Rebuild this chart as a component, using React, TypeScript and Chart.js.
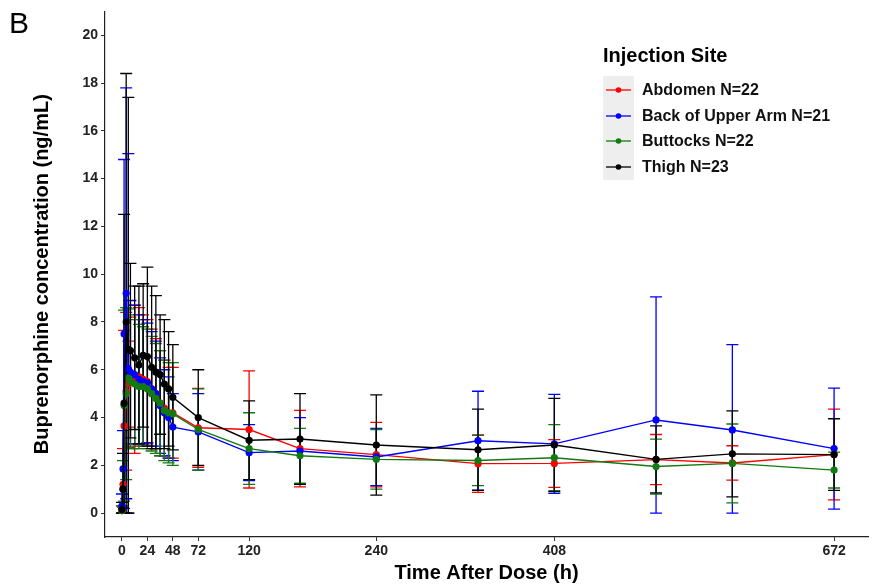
import React, { useEffect, useRef } from "react";
import { Chart, registerables } from "chart.js";

Chart.register(...registerables);

// Nominal sampling times (h)
const times = [0, 1, 2, 4, 6, 8, 12, 16, 20, 24, 28, 32, 36, 40, 44, 48, 72, 120, 168, 240, 336, 408, 504, 576, 672];
const xTickValues = [0, 24, 48, 72, 120, 240, 408, 672];
const yTickValues = [0, 2, 4, 6, 8, 10, 12, 14, 16, 18, 20];

// Abdomen N=22
const abdomenMean = [0.1, 1.2, 3.65, 5.1, 5.4, 5.5, 5.6, 5.7, 5.6, 5.5, 5.2, 5.0, 4.6, 4.4, 4.2, 4.2, 3.57, 3.5, 2.7, 2.45, 2.07, 2.08, 2.24, 2.1, 2.45];
const abdomenSD = [0.2, 1.5, 4.0, 3.3, 1.8, 2.7, 3.1, 2.9, 2.7, 2.6, 2.5, 2.3, 2.2, 2.0, 1.9, 1.9, 1.65, 2.45, 1.6, 1.35, 1.2, 1.0, 1.05, 0.72, 1.9];

// Back of Upper Arm N=21
const armMean = [0.3, 1.85, 7.5, 9.2, 6.05, 5.9, 5.8, 5.6, 5.5, 5.45, 5.2, 5.0, 4.5, 4.2, 4.0, 3.6, 3.4, 2.53, 2.6, 2.35, 3.03, 2.9, 3.9, 3.48, 2.7];
const armSD = [0.5, 1.6, 7.3, 8.6, 9.0, 3.0, 2.9, 2.7, 2.6, 2.5, 2.4, 2.2, 2.0, 1.8, 1.7, 1.4, 1.6, 1.17, 1.4, 1.2, 2.07, 2.07, 5.15, 3.57, 2.53];

// Buttocks N=22
const buttocksMean = [0.1, 1.0, 4.5, 5.0, 5.65, 5.5, 5.4, 5.3, 5.3, 5.2, 5.0, 4.8, 4.6, 4.3, 4.2, 4.15, 3.5, 2.7, 2.4, 2.25, 2.2, 2.32, 1.95, 2.08, 1.8];
const buttocksSD = [0.2, 1.2, 4.0, 3.6, 2.9, 2.8, 2.7, 2.6, 2.5, 2.5, 2.4, 2.3, 2.2, 2.1, 2.1, 2.15, 1.7, 1.5, 1.15, 1.25, 1.05, 1.38, 1.15, 1.65, 0.75];

// Thigh N=23
const thighMean = [0.15, 1.0, 4.6, 8.0, 6.85, 6.8, 6.5, 6.2, 6.6, 6.55, 6.1, 5.9, 5.8, 5.4, 5.2, 4.85, 4.0, 3.05, 3.1, 2.85, 2.65, 2.85, 2.25, 2.48, 2.45];
const thighSD = [0.3, 1.5, 7.9, 10.4, 10.55, 3.65, 3.0, 3.3, 3.0, 3.75, 3.4, 3.2, 2.5, 2.7, 2.4, 2.2, 2.0, 1.65, 1.9, 2.1, 1.7, 1.95, 1.4, 1.8, 1.5];

const seriesLabels = ["Abdomen N=22", "Back of Upper Arm N=21", "Buttocks N=22", "Thigh N=23"];
const seriesColors = ["#ff0000", "#0000ff", "#117a11", "#000000"];
const seriesMeans = [abdomenMean, armMean, buttocksMean, thighMean];
const seriesSDs = [abdomenSD, armSD, buttocksSD, thighSD];

const FONT = "'Liberation Sans', Arial, Helvetica, sans-serif";

const errorBarPlugin = {
  id: "errorBars",
  beforeDatasetsDraw(chart: any) {
    const { ctx, chartArea } = chart;
    const xs = chart.scales.x;
    const ys = chart.scales.y;
    ctx.save();
    ctx.beginPath();
    ctx.rect(chartArea.left, chartArea.top, chartArea.right - chartArea.left, chartArea.bottom - chartArea.top);
    ctx.clip();
    ctx.lineWidth = 1.3;
    const cap = 6;
    for (let s = 0; s < seriesMeans.length; s++) {
      ctx.strokeStyle = seriesColors[s];
      const m = seriesMeans[s];
      const sd = seriesSDs[s];
      for (let i = 0; i < times.length; i++) {
        const x = xs.getPixelForValue(times[i]);
        const hi = ys.getPixelForValue(m[i] + sd[i]);
        const lo = ys.getPixelForValue(Math.max(0, m[i] - sd[i]));
        ctx.beginPath();
        ctx.moveTo(x, hi);
        ctx.lineTo(x, lo);
        ctx.moveTo(x - cap, hi);
        ctx.lineTo(x + cap, hi);
        ctx.moveTo(x - cap, lo);
        ctx.lineTo(x + cap, lo);
        ctx.stroke();
      }
    }
    ctx.restore();
  },
};

const annotationPlugin = {
  id: "annotations",
  afterDraw(chart: any) {
    const { ctx } = chart;
    ctx.save();
    // Panel letter
    ctx.fillStyle = "#000";
    ctx.font = `30px ${FONT}`;
    ctx.textAlign = "left";
    ctx.textBaseline = "middle";
    ctx.fillText("B", 9, 25);

    // Legend
    ctx.font = `bold 20px ${FONT}`;
    ctx.fillStyle = "#000";
    ctx.fillText("Injection Site", 603, 56);
    const keyX = 603;
    const keyW = 31;
    const rowY = [90, 116, 141, 167];
    ctx.fillStyle = "#eeeeee";
    ctx.fillRect(keyX, 76, keyW, 104);
    for (let i = 0; i < seriesLabels.length; i++) {
      const y = rowY[i];
      ctx.strokeStyle = seriesColors[i];
      ctx.lineWidth = 1.3;
      ctx.beginPath();
      ctx.moveTo(keyX + 3, y);
      ctx.lineTo(keyX + keyW - 3, y);
      ctx.stroke();
      ctx.fillStyle = seriesColors[i];
      ctx.beginPath();
      ctx.arc(keyX + keyW / 2, y, 2.8, 0, Math.PI * 2);
      ctx.fill();
      ctx.fillStyle = "#111";
      ctx.font = `bold 16px ${FONT}`;
      ctx.fillText(seriesLabels[i], 642, y + 1);
    }
    ctx.restore();
  },
};

export default function App() {
  const canvasRef = useRef<HTMLCanvasElement | null>(null);

  useEffect(() => {
    if (!canvasRef.current) return;
    const datasets = seriesLabels.map((label, s) => ({
      label,
      data: times.map((t, i) => ({ x: t, y: seriesMeans[s][i] })),
      borderColor: seriesColors[s],
      backgroundColor: seriesColors[s],
      borderWidth: 1.4,
      pointRadius: 3.6,
      pointHoverRadius: 3.6,
      pointBorderWidth: 0,
      tension: 0,
      order: 3 - s,
    }));

    const chart = new Chart(canvasRef.current, {
      type: "line",
      data: { datasets },
      plugins: [errorBarPlugin, annotationPlugin],
      options: {
        animation: false,
        responsive: false,
        devicePixelRatio: 1,
        events: [],
        layout: { padding: { top: 7, right: 6, left: 0, bottom: 0 } },
        plugins: {
          legend: { display: false },
          tooltip: { enabled: false },
        },
        scales: {
          x: {
            type: "linear",
            min: -16,
            max: 704,
            afterBuildTicks: (scale: any) => {
              scale.ticks = xTickValues.map((v) => ({ value: v }));
            },
            afterFit: (scale: any) => {
              scale.height = 48;
            },
            ticks: {
              autoSkip: false,
              maxRotation: 0,
              padding: 2,
              color: "#222",
              font: { family: FONT, size: 14, weight: "bold" },
              callback: (v: any) => String(v),
            },
            grid: {
              drawOnChartArea: false,
              drawTicks: true,
              tickLength: 4,
              tickColor: "#333",
            },
            border: { display: true, color: "#222", width: 1.2 },
            title: {
              display: true,
              text: "Time After Dose (h)",
              color: "#000",
              font: { family: FONT, size: 20, weight: "bold" },
              padding: { top: 0, bottom: 0 },
            },
          },
          y: {
            type: "linear",
            min: -1,
            max: 21,
            afterBuildTicks: (scale: any) => {
              scale.ticks = yTickValues.map((v) => ({ value: v }));
            },
            afterFit: (scale: any) => {
              scale.width = 105;
            },
            ticks: {
              padding: 3,
              color: "#222",
              font: { family: FONT, size: 14, weight: "bold" },
              callback: (v: any) => String(v),
            },
            grid: {
              drawOnChartArea: false,
              drawTicks: true,
              tickLength: 4,
              tickColor: "#333",
            },
            border: { display: true, color: "#222", width: 1.2 },
            title: {
              display: true,
              text: "Buprenorphine concentration (ng/mL)",
              color: "#000",
              font: { family: FONT, size: 20, weight: "bold" },
              padding: { top: 30, bottom: 0 },
            },
          },
        },
      },
    });
    return () => chart.destroy();
  }, []);

  return (
    <div style={{ position: "fixed", left: 0, top: 0, width: 874, height: 585, background: "#fff" }}>
      <canvas ref={canvasRef} width={874} height={585} style={{ display: "block" }} />
    </div>
  );
}
